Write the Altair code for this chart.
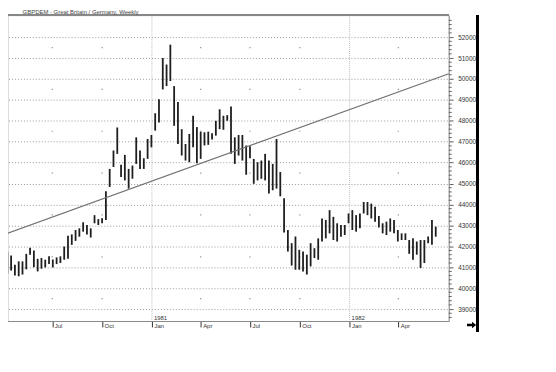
import altair as alt
import pandas as pd

FONT = "Liberation Sans"

# ---- data ----
first_bar_date = "1980-04-09"
highs = [41750, 41560, 41120, 41280, 41280, 41640, 41930, 41800, 41400, 41440,
         41360, 41520, 41370, 41470, 41520, 41990, 42510, 42570, 42780, 42860,
         43150, 43020, 42860, 43490, 43300, 43340, 44630, 45700, 46580, 47680,
         45900, 46370, 45700, 45860, 47210, 46580, 46210, 47130, 47320, 48360,
         49030, 51000, 50690, 51640, 49660, 48900, 47600, 46890, 47370, 48240,
         47700, 47480, 47450, 47480, 47410, 48000, 48550, 48240, 48270, 48680,
         47210, 47320, 47320, 46820, 46780, 46180, 46020, 46100, 46420, 46100,
         45940, 47130, 45550, 44300, 42780, 42150, 42470, 41830, 41750, 41600,
         42150, 41910, 42380, 43330, 43260, 43730, 43410, 43100, 43020, 43020,
         43570, 43730, 43490, 43570, 44120, 44120, 44040, 43890, 43450, 43100,
         43180, 43330, 43260, 42780, 42620, 42620, 42300, 42380, 42230, 42300,
         42300, 42470, 43260, 42940]
lows = [40700, 40840, 40610, 40570, 40650, 40900, 41600, 41000, 40800, 40930,
        40990, 41150, 40990, 41150, 41200, 41360, 41400, 42070, 42260, 42460,
        42700, 42570, 42420, 43100, 43020, 43100, 43260, 44840, 45790, 46420,
        45310, 45150, 44760, 45230, 45940, 45700, 45700, 46180, 46730, 47530,
        47920, 49500, 49660, 49900, 47760, 46890, 46340, 46100, 46020, 46730,
        45970, 46180, 46820, 46850, 47100, 47290, 47600, 47570, 48000, 46420,
        45940, 46340, 46100, 45420, 46210, 44990, 45150, 45230, 45150, 44520,
        44680, 44760, 44390, 42660, 41750, 41080, 40880, 40880, 40800, 40650,
        41040, 41440, 41360, 42230, 42380, 42620, 42300, 42230, 42460, 42540,
        43100, 42780, 42700, 42860, 43570, 43490, 43330, 43180, 42900, 42620,
        42540, 42700, 42620, 42230, 42300, 42300, 41640, 41360, 41600, 40960,
        41200, 42150, 42070, 42460]

trend_dates = ["1980-04-02", "1982-07-03"]
trend_values = [42550, 50250]

quarter_dates = ["1980-04-01", "1980-07-01", "1980-10-01", "1981-01-01", "1981-04-01",
                 "1981-07-01", "1981-10-01", "1982-01-01", "1982-04-01"]
year_dates = ["1981-01-01", "1982-01-01"]
year_labels = ["1981", "1982"]
dot_levels = [39500, 41500, 43500, 45500, 47500, 49500, 51500]
price_ticks = [39000, 40000, 41000, 42000, 43000, 44000, 45000, 46000, 47000,
               48000, 49000, 50000, 51000, 52000]
minor_ticks = [38600, 38800, 39200, 39400, 39600, 39800, 40200, 40400, 40600, 40800,
               41200, 41400, 41600, 41800, 42200, 42400, 42600, 42800, 43200, 43400,
               43600, 43800, 44200, 44400, 44600, 44800, 45200, 45400, 45600, 45800,
               46200, 46400, 46600, 46800, 47200, 47400, 47600, 47800, 48200, 48400,
               48600, 48800, 49200, 49400, 49600, 49800, 50200, 50400, 50600, 50800,
               51200, 51400, 51600, 51800, 52200, 52400, 52600, 52800]
title_text = "GBPDEM - Great Britain / Germany, Weekly"

# ---- tables ----
dates = pd.date_range(first_bar_date, periods=len(highs), freq="7D")
bars_df = pd.DataFrame({"date": dates.strftime("%Y-%m-%dT00:00:00"), "high": highs, "low": lows})
trend_df = pd.DataFrame({"date": [d + "T00:00:00" for d in trend_dates], "value": trend_values})
years_df = pd.DataFrame({"date": [d + "T00:00:00" for d in year_dates], "label": year_labels})
dots_df = pd.DataFrame([
    {"date": d + "T00:00:00", "value": v}
    for d in quarter_dates if not d.endswith("01-01") for v in dot_levels
])
minor_df = pd.DataFrame({"value": minor_ticks})

W, H = 444, 308

def dt(s):
    y, m, d = (int(p) for p in s.split("-"))
    return alt.DateTime(year=y, month=m, date=d)

x_scale = alt.Scale(domain=[dt("1980-04-02"), dt("1982-07-03")], range=[-4.5, W])
y_scale = alt.Scale(domain=[38430, 53045], nice=False, zero=False)

x_axis = alt.Axis(values=[dt(d) for d in quarter_dates], format="%b", orient="bottom",
                  labelAlign="left", labelBaseline="top", labelPadding=-4, labelOffset=2,
                  tickSize=6, tickColor="#333", domainColor="#888", grid=False,
                  labelFontSize=6, labelFont=FONT, labelColor="#333", title=None,
                  labelFlush=False, labelOverlap=False)
y_axis = alt.Axis(values=price_ticks, format="d", orient="right", tickSize=4, labelPadding=5,
                  labelFontSize=6.5, labelFont=FONT, labelColor="#333", domainColor="#888",
                  tickColor="#666", grid=True, gridDash=[1, 2], gridColor="#9a9a9a",
                  title=None, labelFlush=False)

X = lambda f: alt.X(f, scale=x_scale, axis=x_axis)
Y = lambda f: alt.Y(f, scale=y_scale, axis=y_axis)

bars = alt.Chart(bars_df).mark_rule(strokeWidth=1.8, color="#1e1e1e").encode(
    x=X("date:T"), y=Y("high:Q"), y2="low:Q",
)

jan_lines = alt.Chart(years_df).mark_rule(color="#bdbdbd", strokeDash=[1, 1], strokeWidth=1).encode(
    x=X("date:T")
)

dots = alt.Chart(dots_df).mark_square(size=1.5, color="#666").encode(
    x=X("date:T"), y=Y("value:Q")
)

year_text = alt.Chart(years_df).mark_text(align="left", baseline="middle", dx=2,
                                          fontSize=6, font=FONT, color="#333").encode(
    x=X("date:T"), y=alt.value(305), text="label:N"
)

trend = alt.Chart(trend_df).mark_line(color="#707070", strokeWidth=1.2).encode(
    x=X("date:T"), y=Y("value:Q")
)

minor = alt.Chart(minor_df).mark_rule(color="#666", strokeWidth=1).encode(
    y=Y("value:Q"), x=alt.value(W), x2=alt.value(W + 3)
)

top_line = alt.Chart(minor_df).mark_rule(color="#888", strokeWidth=1).encode(
    x=alt.value(0), x2=alt.value(W), y=alt.value(0)
)

thick = alt.Chart(minor_df).mark_rule(color="#000", strokeWidth=2.5).encode(
    x=alt.value(473), y=alt.value(0), y2=alt.value(319)
)

arrow = alt.Chart(pd.DataFrame({"k": [0]})).mark_point(
    shape="M-1,-0.28L0.1,-0.28L0.1,-0.7L1,0L0.1,0.7L0.1,0.28L-1,0.28Z",
    filled=True, size=85, color="#000", opacity=1
).encode(x=alt.value(467), y=alt.value(312))

title = alt.Chart(pd.DataFrame({"t": [title_text]})).mark_text(
    align="left", baseline="alphabetic", fontSize=6, font=FONT, color="#444"
).encode(x=alt.value(14.7), y=alt.value(-1.5), text="t:N")

chart = alt.layer(
    jan_lines, dots, bars, trend, year_text, minor, top_line, thick, arrow, title
).properties(
    width=W, height=H,
    autosize=alt.AutoSizeParams(type="none"),
    padding={"left": 0, "top": 6, "right": 100, "bottom": 40},
).configure_view(stroke=None).configure(background="white")

chart.save("out.html", embed_options={"renderer": "svg", "actions": False})
